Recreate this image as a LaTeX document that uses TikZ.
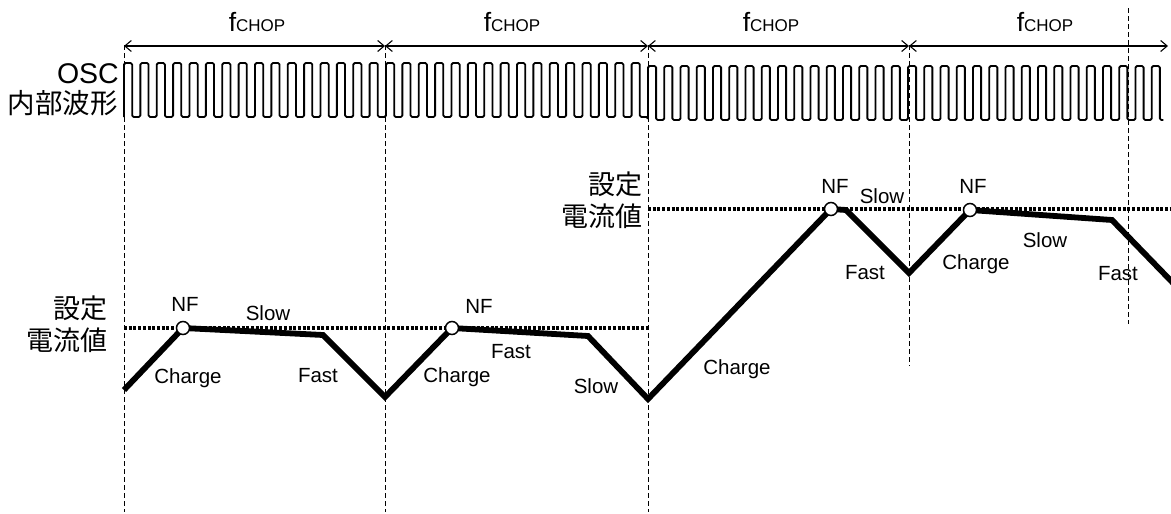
\documentclass[tikz,border=0pt]{standalone}
\usepackage{fontspec}
\setmainfont{Liberation Sans}
\newfontfamily\jpfont{Noto Sans CJK JP}
\usetikzlibrary{arrows.meta}
\tikzset{
  guide/.style={line width=1pt, dash pattern=on 4.5pt off 3.5pt},
  level/.style={line width=3.5pt, dash pattern=on 3pt off 1.7pt},
  span/.style={line width=1.1pt, {Straight Barb[length=6.5pt,width=11pt]}-{Straight Barb[length=6.5pt,width=11pt]}},
  wave/.style={line width=1.8pt, rounded corners=1.5pt, line join=round},
  current/.style={line width=5.8pt, line join=miter},
  nf/.style={circle, draw, fill=white, line width=1.5pt, inner sep=0pt, minimum size=13pt},
  lbl/.style={font=\fontsize{20.5}{22}\selectfont, anchor=base, inner sep=0pt},
  jp/.style={font=\jpfont\fontsize{27}{32}\selectfont, align=right, inner sep=0pt},
  fchop/.style={anchor=base, inner sep=0pt}
}
\newcommand{\fchoptext}{{\fontsize{26.5}{26}\selectfont f}{\fontsize{17}{17}\selectfont CHOP}}
\begin{document}
\begin{tikzpicture}[x=1pt,y=-1pt]
\useasboundingbox (0,0) rectangle (1171,514);
% guide coordinates
\coordinate (g1t) at (124,45);  \coordinate (g1b) at (124,512);
\coordinate (g2t) at (385,45);  \coordinate (g2b) at (385,512);
\coordinate (g3t) at (648,45);  \coordinate (g3b) at (648,512);
\coordinate (g4t) at (909,45);  \coordinate (g4b) at (909,366);
\coordinate (g5t) at (1128,8);  \coordinate (g5b) at (1128,324);
\draw[guide] (g1t) -- (g1b);
\draw[guide] (g2t) -- (g2b);
\draw[guide] (g3t) -- (g3b);
\draw[guide] (g4t) -- (g4b);
\draw[guide] (g5t) -- (g5b);
% spans
\coordinate (a1) at (124,46); \coordinate (a2) at (385,46);
\coordinate (a3) at (648,46); \coordinate (a4) at (909,46);
\coordinate (a5) at (1168,46);
\draw[span] (a1) -- (a2);
\draw[span] (a2) -- (a3);
\draw[span] (a3) -- (a4);
\draw[span] (a4) -- (a5);
\node[fchop] (f1) at (257,31) {\fchoptext};
\node[fchop] (f2) at (512,31) {\fchoptext};
\node[fchop] (f3) at (771,31) {\fchoptext};
\node[fchop] (f4) at (1045,31) {\fchoptext};
% OSC labels
\node[anchor=base east, inner sep=0pt, font=\fontsize{28.5}{30}\selectfont] (osc) at (119,83) {OSC};
\node[anchor=base east, inner sep=0pt, font=\jpfont\fontsize{27.5}{30}\selectfont] (oscjp) at (118,113) {内部波形};
% waveform
\draw[wave] (124,117) \foreach \k in {1,...,32} { -- ++(0,-54) -- ++(8.1875,0) -- ++(0,54) -- ++(8.1875,0) } -- (648,120)
  \foreach \k in {1,...,31} { -- ++(0,-54) -- ++(8.125,0) -- ++(0,54) -- ++(8.125,0) }
  -- ++(0,-54) -- ++(8.1,0) -- ++(0,54) -- ++(3.5,0);
% level lines
\coordinate (l1a) at (124,328); \coordinate (l1b) at (648,328);
\coordinate (l2a) at (648,209); \coordinate (l2b) at (1171,209);
\draw[level] (l1a) -- (l1b);
\draw[level] (l2a) -- (l2b);
\node[jp, anchor=north east] (set1) at (108,296) {設定\\電流値};
\node[jp, anchor=north east] (set2) at (643,172) {設定\\電流値};
% current waveform
\coordinate (p0) at (124,390);
\coordinate (n1) at (183,328);
\coordinate (p2) at (323,335);
\coordinate (p3) at (385,397);
\coordinate (n2) at (452,328);
\coordinate (p5) at (588,336);
\coordinate (p6) at (648,399);
\coordinate (n3) at (831,209);
\coordinate (p8) at (846,210);
\coordinate (p9) at (909,273);
\coordinate (n4) at (970,210);
\coordinate (p11) at (1112,220);
\coordinate (p12) at (1175,285);
\begin{scope}
\clip (0,0) rectangle (1171,514);
\draw[current] (p0) -- (n1) -- (p2) -- (p3) -- (n2) -- (p5) -- (p6) -- (n3) -- (p8) -- (p9) -- (n4) -- (p11) -- (p12);
\end{scope}
\node[nf] (c1) at (n1) {};
\node[nf] (c2) at (n2) {};
\node[nf] (c3) at (n3) {};
\node[nf] (c4) at (n4) {};
% labels
\node[lbl] (nf1) at (185,311) {NF};
\node[lbl] (s1) at (268,320) {Slow};
\node[lbl] (ch1) at (188,383) {Charge};
\node[lbl] (fa1) at (318,382) {Fast};
\node[lbl] (nf2) at (479,313) {NF};
\node[lbl] (fa2) at (511,358) {Fast};
\node[lbl] (ch2) at (457,382) {Charge};
\node[lbl] (s2) at (596,393) {Slow};
\node[lbl] (ch3) at (737,374) {Charge};
\node[lbl] (nf3) at (835,193) {NF};
\node[lbl] (s3) at (882,203) {Slow};
\node[lbl] (fa3) at (865,279) {Fast};
\node[lbl] (nf4) at (973,193) {NF};
\node[lbl] (ch4) at (976,269) {Charge};
\node[lbl] (s4) at (1045,247) {Slow};
\node[lbl] (fa4) at (1118,280) {Fast};
\end{tikzpicture}
\end{document}
